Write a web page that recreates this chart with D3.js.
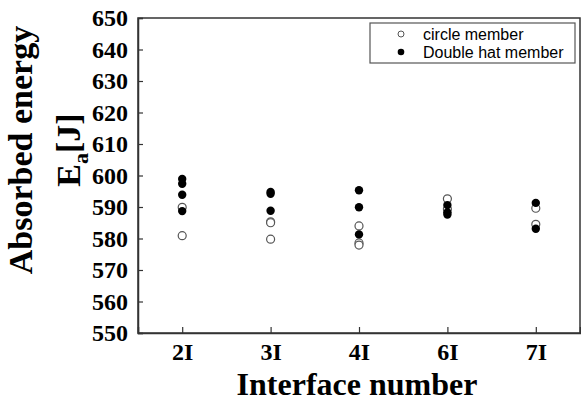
<!DOCTYPE html>
<html>
<head>
<meta charset="utf-8">
<script src="https://cdn.jsdelivr.net/npm/d3@7"></script>
<style>
html,body{margin:0;padding:0;background:#fff;}
svg{display:block;}
</style>
</head>
<body>
<svg id="chart" width="581" height="403"></svg>
<script>
const categories = ["2I", "3I", "4I", "6I", "7I"];
const circleMember = [
  ["2I", 589.9], ["2I", 580.9],
  ["3I", 585.3], ["3I", 585.0], ["3I", 579.8],
  ["4I", 584.0], ["4I", 578.6], ["4I", 577.9],
  ["6I", 592.6], ["6I", 589.4],
  ["7I", 589.6], ["7I", 584.5]
];
const doubleHatMember = [
  ["2I", 598.9], ["2I", 597.4], ["2I", 593.9], ["2I", 588.7],
  ["3I", 594.8], ["3I", 594.2], ["3I", 588.8],
  ["4I", 595.3], ["4I", 589.9], ["4I", 581.3],
  ["6I", 590.6], ["6I", 588.3], ["6I", 587.6],
  ["7I", 591.3], ["7I", 583.1]
];
const yTicks = [550, 560, 570, 580, 590, 600, 610, 620, 630, 640, 650];
const seriesNames = ["circle member", "Double hat member"];

const svg = d3.select("#chart");
const L = 138, R = 580, T = 18, B = 333;
const x = d3.scalePoint().domain(categories).range([L, R]).padding(0.5);
const y = d3.scaleLinear().domain([550, 650]).range([B, T]);
const axisColor = "#333";
const serif = "'Liberation Serif','Times New Roman',serif";

// frame
svg.append("rect").attr("x", L).attr("y", T).attr("width", R - L).attr("height", B - T)
  .attr("fill", "none").attr("stroke", axisColor).attr("stroke-width", 1.5);

// y axis
const yAxis = svg.append("g").attr("transform", `translate(${L},0)`)
  .call(d3.axisLeft(y).tickValues(yTicks).tickSize(-5).tickPadding(10).tickFormat(d3.format("d")));
yAxis.select(".domain").attr("stroke", axisColor).attr("stroke-width", 1.5);
yAxis.selectAll(".tick line").attr("stroke", axisColor).attr("stroke-width", 1.2);
yAxis.selectAll(".tick text").attr("font-family", serif).attr("font-weight", "bold")
  .attr("font-size", 24).attr("fill", "#000");

// x axis
const xAxis = svg.append("g").attr("transform", `translate(0,${B})`)
  .call(d3.axisBottom(x).tickSize(-6).tickPadding(10));
xAxis.select(".domain").attr("stroke", axisColor).attr("stroke-width", 1.5);
xAxis.selectAll(".tick line").attr("stroke", axisColor).attr("stroke-width", 1.2);
xAxis.selectAll(".tick text").attr("font-family", serif).attr("font-weight", "bold")
  .attr("font-size", 24).attr("fill", "#000");

// axis titles
svg.append("text").attr("x", 357).attr("y", 395)
  .attr("text-anchor", "middle").attr("font-family", serif).attr("font-weight", "bold")
  .attr("font-size", 32).attr("fill", "#000").text("Interface number");

const yt = svg.append("g").attr("transform", "translate(32,150) rotate(-90)");
yt.append("text").attr("x", 0).attr("y", 0).attr("text-anchor", "middle")
  .attr("font-family", serif).attr("font-weight", "bold").attr("font-size", 34)
  .attr("fill", "#000").text("Absorbed energy");
const t2 = yt.append("text").attr("x", 0).attr("y", 48).attr("text-anchor", "middle")
  .attr("font-family", serif).attr("font-weight", "bold").attr("font-size", 34).attr("fill", "#000");
t2.append("tspan").text("E");
t2.append("tspan").attr("font-size", 22).attr("dy", 8).text("a");
t2.append("tspan").attr("dy", -8).text("[J]");

// points
svg.append("g").selectAll("circle").data(circleMember).join("circle")
  .attr("cx", d => x(d[0])).attr("cy", d => y(d[1])).attr("r", 4)
  .attr("fill", "#fff").attr("stroke", "#555").attr("stroke-width", 1.2);
svg.append("g").selectAll("circle").data(doubleHatMember).join("circle")
  .attr("cx", d => x(d[0])).attr("cy", d => y(d[1])).attr("r", 4.2)
  .attr("fill", "#000");

// legend
const lg = svg.append("g");
lg.append("rect").attr("x", 370).attr("y", 23).attr("width", 205).attr("height", 40)
  .attr("fill", "#fff").attr("stroke", "#555").attr("stroke-width", 1.2);
lg.append("circle").attr("cx", 401).attr("cy", 34).attr("r", 3)
  .attr("fill", "#fff").attr("stroke", "#555").attr("stroke-width", 1);
lg.append("circle").attr("cx", 401).attr("cy", 52).attr("r", 3.3).attr("fill", "#000");
lg.selectAll("text.lab").data(seriesNames).join("text").attr("class", "lab")
  .attr("x", 423).attr("y", (d, i) => 39.5 + i * 18)
  .attr("font-family", "'Liberation Sans',Arial,sans-serif").attr("font-size", 16)
  .attr("fill", "#000").text(d => d);
</script>
</body>
</html>
